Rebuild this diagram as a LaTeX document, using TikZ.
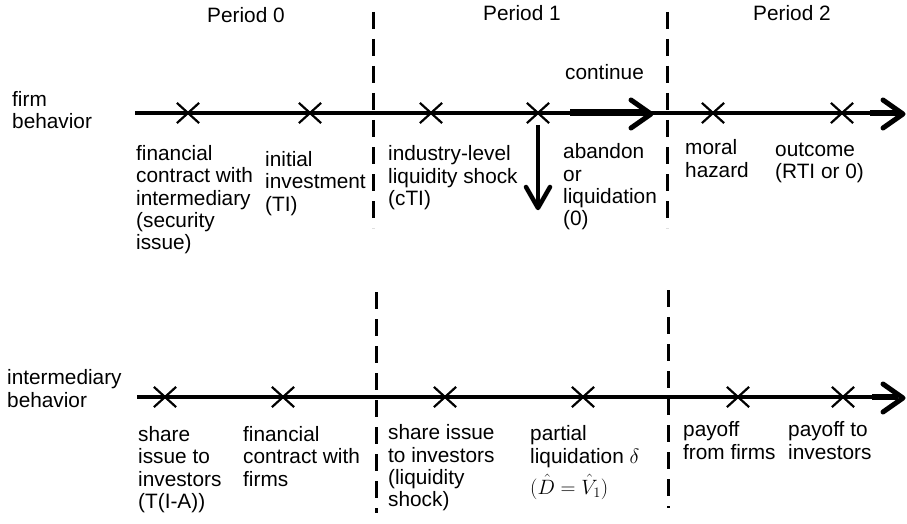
\documentclass[tikz,border=0pt]{standalone}
\usepackage{fontspec}
\setmainfont{Liberation Sans}
\usetikzlibrary{shapes.misc}
\begin{document}
\begin{tikzpicture}[x=1pt,y=-1pt,
  lbl/.style={anchor=north west, inner sep=0pt, align=left,
    font=\fontsize{20.8}{22.3}\selectfont,
    execute at begin node={\rule{0pt}{15.5pt}}},
  xmark/.style={cross out, draw, line width=2.2pt, minimum width=20pt,
    minimum height=18pt, inner sep=0pt},
  tline/.style={line width=4.5pt},
  tend/.style={line width=6.5pt},
  chev/.style={line width=5pt, line cap=round, line join=round},
  divider/.style={line width=3pt, dash pattern=on 17pt off 10pt}]
\useasboundingbox (0,0) rectangle (907,524);

% coordinates
\coordinate (tA) at (135,113);
\coordinate (tB) at (870,113);
\coordinate (tC) at (899,113);
\coordinate (bA) at (137,397);
\coordinate (bB) at (872,397);
\coordinate (bC) at (898,397);

% dashed period dividers
\coordinate (d1t) at (373,12);  \coordinate (d1b) at (373,228);
\coordinate (d2t) at (667,12);  \coordinate (d2b) at (667,228);
\coordinate (d3t) at (376,292); \coordinate (d3b) at (376,513);
\coordinate (d4t) at (668,290); \coordinate (d4b) at (668,508);
\draw[divider] (d1t) -- (d1b);
\draw[divider] (d2t) -- (d2b);
\draw[divider] (d3t) -- (d3b);
\draw[divider] (d4t) -- (d4b);

% firm timeline
\draw[tline] (tA) -- (tB);
\draw[tend] (tB) -- (tC);
\draw[chev] (883,100) -- (903,114) -- (883,128);

% intermediary timeline
\draw[tline] (bA) -- (bB);
\draw[tend] (bB) -- (bC);
\draw[chev] (883,384) -- (903,398) -- (883,412);

% crosses
\node[xmark] (f1) at (188,113) {};
\node[xmark] (f2) at (310,113) {};
\node[xmark] (f3) at (431,113) {};
\node[xmark] (f4) at (538,113) {};
\node[xmark] (f5) at (713,113) {};
\node[xmark] (f6) at (842,113) {};
\node[xmark] (i1) at (165,397) {};
\node[xmark] (i2) at (283,397) {};
\node[xmark] (i3) at (445,397) {};
\node[xmark] (i4) at (583,397) {};
\node[xmark] (i5) at (738,397) {};
\node[xmark] (i6) at (843,397) {};

% continue arrow
\coordinate (cs) at (570,113);
\coordinate (ce) at (645,113);
\draw[line width=7pt] (cs) -- (ce);
\draw[chev] (631,100) -- (651,114) -- (631,128);

% abandon arrow (down)
\coordinate (ds) at (538,125);
\coordinate (de) at (538,205);
\draw[line width=4pt] (ds) -- (de);
\draw[chev, line width=4.5pt] (526,187) -- (538,208) -- (550,187);

% period headings
\node[lbl] (p0) at (207,6.5) {Period 0};
\node[lbl] (p1) at (483,4.5) {Period 1};
\node[lbl] (p2) at (753,4.5) {Period 2};

% row titles
\node[lbl] (firm) at (12,91) {firm\\behavior};
\node[lbl] (interm) at (7,369.5) {intermediary\\behavior};

% firm labels
\node[lbl] (cont) at (565,63.5) {continue};
\node[lbl] (lf1) at (136,145.2) {financial\\contract with\\intermediary\\(security\\issue)};
\node[lbl] (lf2) at (265,151.2) {initial\\investment\\(TI)};
\node[lbl] (lf3) at (388,145.5) {industry-level\\liquidity shock\\(cTI)};
\node[lbl] (lf4) at (563,143.5) {abandon\\or\\liquidation\\(0)};
\node[lbl] (lf5) at (685,139.5) {moral\\hazard};
\node[lbl] (lf6) at (775,142.5) {outcome\\(RTI or 0)};

% intermediary labels
\node[lbl] (li1) at (138,426.2) {share\\issue to\\investors\\(T(I-A))};
\node[lbl] (li2) at (243,426.2) {financial\\contract with\\firms};
\node[lbl] (li3) at (388,424.5) {share issue\\to investors\\(liquidity\\shock)};
\node[lbl] (li4) at (530,425.5) {partial\\liquidation $\delta$\\[6pt]$(\hat{D}=\hat{V}_1)$};
\node[lbl] (li5) at (683,421.5) {payoff\\from firms};
\node[lbl] (li6) at (788,421.5) {payoff to\\investors};
\end{tikzpicture}
\end{document}
